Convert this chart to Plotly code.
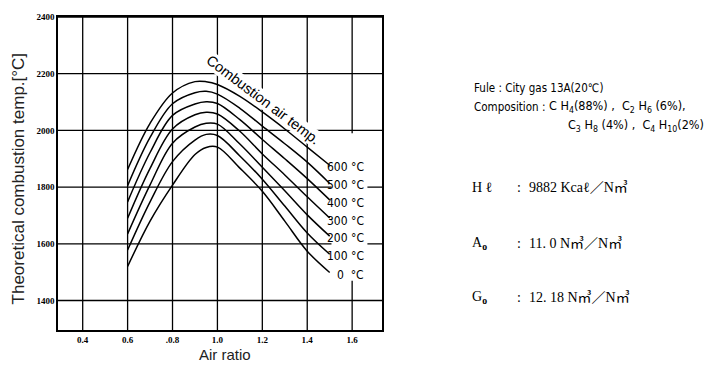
import plotly.graph_objects as go

# ---------------- data ----------------
air_ratio = [0.6, 0.7, 0.8, 0.9, 0.95, 1.0, 1.1, 1.2, 1.3, 1.4, 1.5]

temp_600 = [1862, 2025, 2132, 2172, 2172, 2162, 2120, 2065, 2005, 1941, 1877]
temp_500 = [1805, 1975, 2094, 2133, 2138, 2128, 2078, 2015, 1953, 1888, 1813]
temp_400 = [1748, 1922, 2053, 2093, 2101, 2095, 2038, 1968, 1900, 1830, 1755]
temp_300 = [1690, 1866, 2005, 2055, 2064, 2058, 1997, 1917, 1843, 1766, 1691]
temp_200 = [1635, 1808, 1955, 2012, 2025, 2022, 1952, 1870, 1787, 1702, 1627]
temp_100 = [1578, 1748, 1890, 1966, 1986, 1982, 1910, 1828, 1733, 1638, 1563]
temp_0   = [1520, 1680, 1807, 1915, 1940, 1941, 1867, 1785, 1680, 1574, 1499]

series = {600: temp_600, 500: temp_500, 400: temp_400, 300: temp_300,
          200: temp_200, 100: temp_100, 0: temp_0}

label_temps = [600, 500, 400, 300, 200, 100, 0]
label_y = [1871, 1809, 1745, 1682, 1619, 1556, 1490]

x_tickvals = [0.4, 0.6, 0.8, 1.0, 1.2, 1.4, 1.6]
x_ticktext = ["0.4", "0.6", ".0.8", "1.0", "1.2", "1.4", "1.6"]
y_tickvals = [1400, 1600, 1800, 2000, 2200, 2400]
y_ticktext = ["1400", "1600", "1800", "2000", "2200", "2400"]

X_RANGE = [0.29, 1.733]
Y_RANGE = [1296, 2400]

# ---------------- layout geometry ----------------
W, H = 707, 376
L, R, T, B = 58, 382, 13, 330
pw, ph = R - L, B - T


def px(xp):
    return (xp - L) / pw


def py(yp):
    return (B - yp) / ph


fig = go.Figure()
for t in label_temps:
    fig.add_trace(go.Scatter(
        x=air_ratio, y=series[t], mode="lines",
        line=dict(color="black", width=1.5, shape="spline", smoothing=1.0),
        showlegend=False, hoverinfo="skip"))

tick_font = dict(family="Liberation Serif, DejaVu Serif", size=9, color="black", weight="bold")

fig.update_layout(
    width=W, height=H,
    margin=dict(l=L, r=W - R, t=T, b=H - B),
    paper_bgcolor="white", plot_bgcolor="white",
    xaxis=dict(range=X_RANGE, tickvals=x_tickvals, ticktext=x_ticktext,
               showgrid=False, showline=True, linecolor="black", linewidth=1.5, mirror=True,
               ticks="", tickfont=tick_font, zeroline=False),
    yaxis=dict(range=Y_RANGE, tickvals=y_tickvals, ticktext=y_ticktext,
               showgrid=False, showline=True, linecolor="black", linewidth=1.5, mirror=True,
               ticks="", tickfont=tick_font, zeroline=False),
)

# grid lines at the tick values
for xv in x_tickvals:
    fig.add_shape(type="line", xref="x", yref="y", x0=xv, x1=xv, y0=Y_RANGE[0], y1=Y_RANGE[1],
                  line=dict(color="black", width=1.3), layer="below")
for yv in y_tickvals:
    fig.add_shape(type="line", xref="x", yref="y", x0=X_RANGE[0], x1=X_RANGE[1], y0=yv, y1=yv,
                  line=dict(color="black", width=1.3), layer="below")

# white patch where the reference grid is interrupted behind the labels
fig.add_shape(type="rect", xref="x", yref="y", x0=1.508, x1=1.668, y0=1470, y1=1990,
              fillcolor="white", line=dict(width=0), layer="above")

ann = []
lab_font = dict(family="DejaVu Sans Condensed", size=12, color="black")
for t, yv in zip(label_temps, label_y):
    txt = f"{t} °C" if t > 0 else f"{t}&nbsp;&nbsp;°C"
    ann.append(dict(x=px(366), xref="paper", y=yv, yref="y", text=txt,
                    xanchor="right", yanchor="middle", showarrow=False, font=lab_font))

# rotated label along curves
ann.append(dict(x=1.205, y=2106, xref="x", yref="y", text="Combustion air temp.",
                textangle=37, showarrow=False, bgcolor="white", borderpad=0,
                font=dict(family="Liberation Sans, Arial", size=14.5, color="black")))

# axis titles
ann.append(dict(x=px(7), y=py(177), xref="paper", yref="paper",
                text="Theoretical combustion temp.[°C]", textangle=-90, showarrow=False,
                font=dict(family="Liberation Sans, Arial", size=17, color="#222")))
ann.append(dict(x=px(225), y=py(365), xref="paper", yref="paper",
                text="Air ratio", showarrow=False,
                font=dict(family="Liberation Sans, Arial", size=15, color="#222")))

info_font = dict(family="DejaVu Sans Condensed", size=11.5, color="black")
chem_font = dict(family="DejaVu Sans Condensed", size=12.5, color="black")
info = [
    (472, 85, "Fule : City gas 13A(20℃)", info_font),
    (472, 104, "Composition :", info_font),
    (547, 104, "C H<sub>4</sub>(88%) ,  C<sub>2</sub> H<sub>6</sub> (6%),", chem_font),
    (566, 123, "C<sub>3</sub> H<sub>8</sub> (4%) ,  C<sub>4</sub> H<sub>10</sub>(2%)", chem_font),
]
for xp_, yp_, txt, fnt in info:
    ann.append(dict(x=px(xp_), y=py(yp_), xref="paper", yref="paper", xanchor="left",
                    yanchor="middle", text=txt, showarrow=False, font=fnt))

prop_font = dict(family="Liberation Serif, Noto Sans CJK JP", size=14, color="black")
props = [("H ℓ", "9882 Kcaℓ／N㎥", 186),
         ("A<sub><b>o</b></sub>", "11. 0 N㎥／N㎥", 242),
         ("G<sub><b>o</b></sub>", "12. 18 N㎥／N㎥", 297)]
for sym, val, yp in props:
    ann.append(dict(x=px(470), y=py(yp), xref="paper", yref="paper", xanchor="left", yanchor="middle",
                    text=sym, showarrow=False, font=prop_font))
    ann.append(dict(x=px(515), y=py(yp), xref="paper", yref="paper", xanchor="left", yanchor="middle",
                    text=":", showarrow=False, font=prop_font))
    ann.append(dict(x=px(527), y=py(yp), xref="paper", yref="paper", xanchor="left", yanchor="middle",
                    text=val, showarrow=False, font=prop_font))

fig.update_layout(annotations=ann)
fig.write_html("out.html")
